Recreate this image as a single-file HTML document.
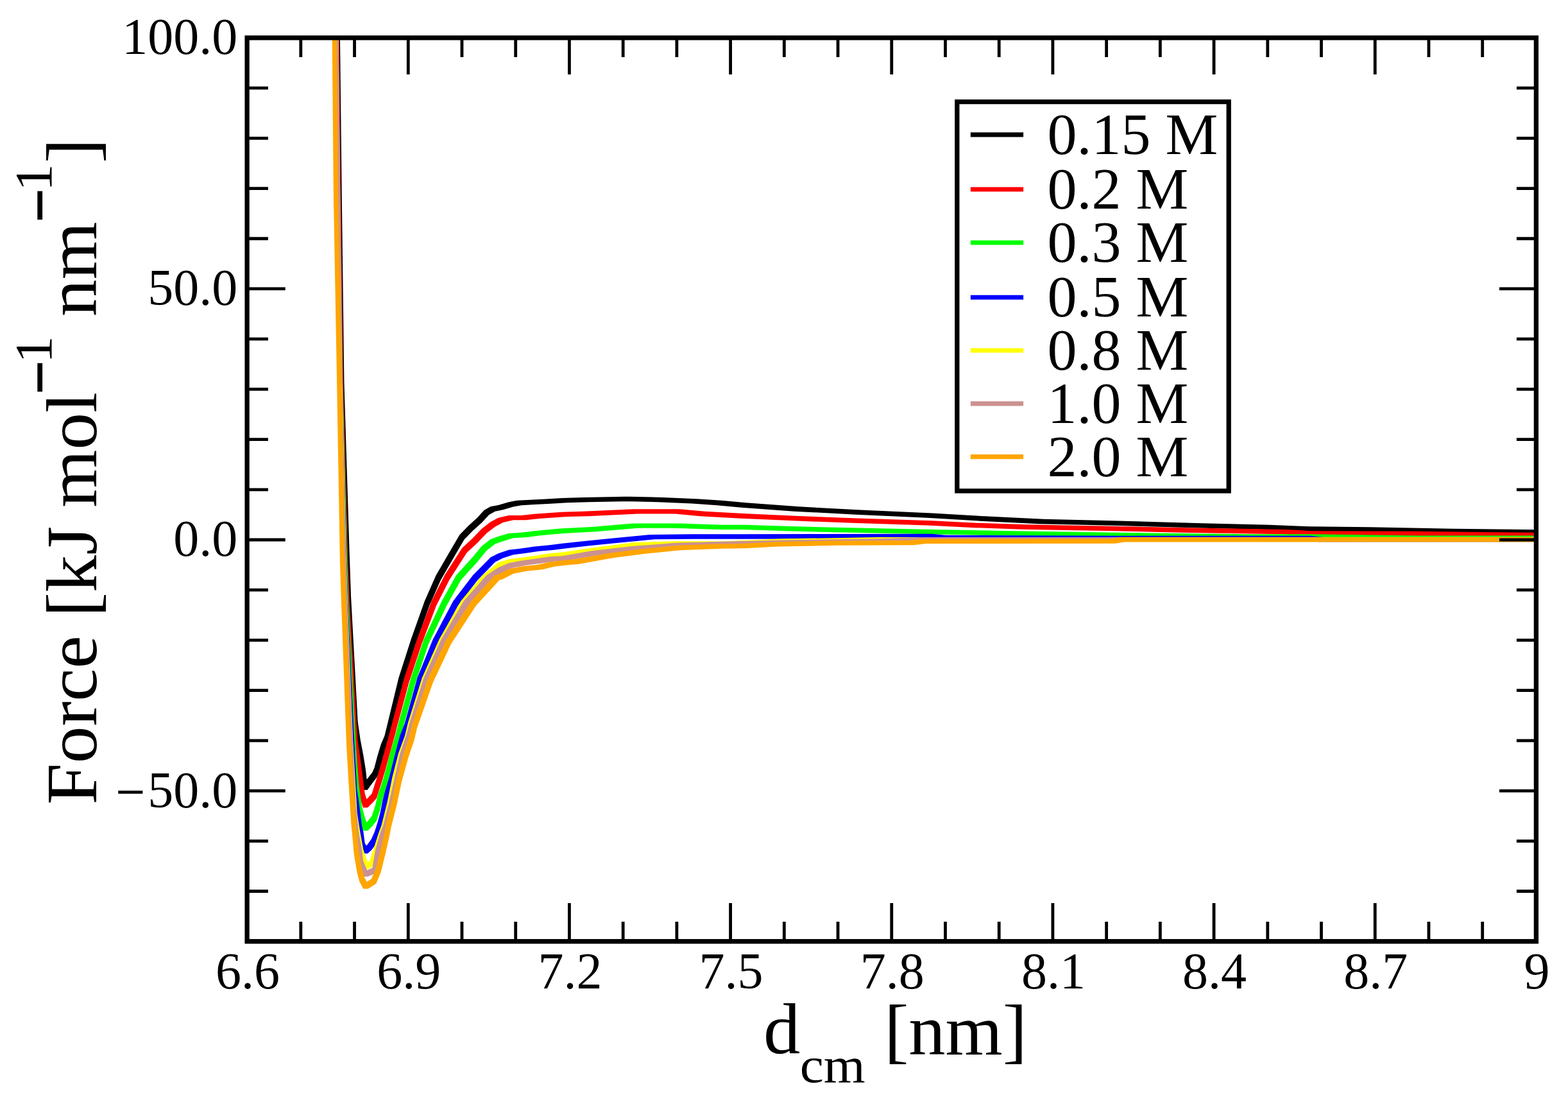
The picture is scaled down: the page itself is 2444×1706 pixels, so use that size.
<!DOCTYPE html>
<html><head><meta charset="utf-8"><title>Force vs distance</title>
<style>html,body{margin:0;padding:0;background:#fff;}svg{display:block;}</style></head>
<body><svg width="2444" height="1706" viewBox="0 0 2444 1706" font-family="'Liberation Serif', 'Times New Roman', serif">
<rect width="2444" height="1706" fill="#fff"/>
<defs><clipPath id="c"><rect x="385.1" y="58.9" width="2009.3" height="1407.8"/></clipPath></defs>
<g clip-path="url(#c)">
<path fill="#000000" d="M521.95 26.35 529.25 26.35 529.95 58.35 529.95 65.65 522.65 65.65 521.95 33.65ZM522.65 58.35 529.95 58.35 532.65 296.35 532.65 303.65 525.35 303.65 522.65 65.65ZM525.35 296.35 532.65 296.35 536.45 596.35 536.45 603.65 529.15 603.65 525.35 303.65ZM529.15 596.35 536.45 596.35 544.85 866.35 544.85 873.65 537.55 873.65 529.15 603.65ZM537.55 866.35 544.85 866.35 547.15 931.35 547.15 938.65 539.85 938.65 537.55 873.65ZM539.85 931.35 547.15 931.35 556.15 1096.35 556.15 1103.65 548.85 1103.65 539.85 938.65ZM548.85 1096.35 556.15 1096.35 557.65 1124.35 557.65 1131.65 550.35 1131.65 548.85 1103.65ZM550.35 1124.35 557.65 1124.35 561.65 1152.35 561.65 1159.65 554.35 1159.65 550.35 1131.65ZM554.35 1152.35 561.65 1152.35 566.25 1176.35 566.25 1183.65 558.95 1183.65 554.35 1159.65ZM558.95 1176.35 566.25 1176.35 569.95 1198.85 569.95 1206.15 562.65 1206.15 558.95 1183.65ZM562.65 1198.85 569.95 1198.85 572.65 1223.35 572.65 1230.65 565.35 1230.65 562.65 1206.15ZM565.35 1223.35 573.35 1212.35 580.65 1212.35 580.65 1219.65 572.65 1230.65 565.35 1230.65ZM573.35 1212.35 580.35 1203.35 587.65 1203.35 587.65 1210.65 580.65 1219.65 573.35 1219.65ZM580.35 1203.35 583.45 1196.25 590.75 1196.25 590.75 1203.55 587.65 1210.65 580.35 1210.65ZM583.45 1196.25 588.15 1178.35 595.45 1178.35 595.45 1185.65 590.75 1203.55 583.45 1203.55ZM588.15 1178.35 593.75 1159.75 601.05 1159.75 601.05 1167.05 595.45 1185.65 588.15 1185.65ZM593.75 1159.75 599.45 1146.35 606.75 1146.35 606.75 1153.65 601.05 1167.05 593.75 1167.05ZM599.45 1146.35 604.3 1126.55 611.6 1126.55 611.6 1133.85 606.75 1153.65 599.45 1153.65ZM604.3 1126.55 621.35 1056.25 628.65 1056.25 628.65 1063.55 611.6 1133.85 604.3 1133.85ZM621.35 1056.25 640.6 996.25 647.9 996.25 647.9 1003.55 628.65 1063.55 621.35 1063.55ZM640.6 996.25 661.95 936.35 669.25 936.35 669.25 943.65 647.9 1003.55 640.6 1003.55ZM661.95 936.35 679.65 896.35 686.95 896.35 686.95 903.65 669.25 943.65 661.95 943.65ZM679.65 896.35 704.35 853.75 711.65 853.75 711.65 861.05 686.95 903.65 679.65 903.65ZM704.35 853.75 716.35 833.25 723.65 833.25 723.65 840.55 711.65 861.05 704.35 861.05ZM716.35 833.25 730.05 819.15 737.35 819.15 737.35 826.45 723.65 840.55 716.35 840.55ZM730.05 819.15 743.75 806.85 751.05 806.85 751.05 814.15 737.35 826.45 730.05 826.45ZM743.75 806.85 754.75 794.85 762.05 794.85 762.05 802.15 751.05 814.15 743.75 814.15ZM754.75 794.85 764.35 789.35 771.65 789.35 771.65 796.65 762.05 802.15 754.75 802.15ZM764.35 789.35 776.65 787.05 783.95 787.05 783.95 794.35 771.65 796.65 764.35 796.65ZM776.65 787.05 792.85 782.15 800.15 782.15 800.15 789.45 783.95 794.35 776.65 794.35ZM792.85 782.15 805.55 779.85 812.85 779.85 812.85 787.15 800.15 789.45 792.85 789.45ZM805.55 779.85 826.15 778.65 833.45 778.65 833.45 785.95 812.85 787.15 805.55 787.15ZM826.15 778.65 851.05 777.55 858.35 777.55 858.35 784.85 833.45 785.95 826.15 785.95ZM851.05 777.55 875.95 775.95 883.25 775.95 883.25 783.25 858.35 784.85 851.05 784.85ZM875.95 775.95 908.65 774.95 915.95 774.95 915.95 782.25 883.25 783.25 875.95 783.25ZM908.65 774.95 973.95 773.65 981.25 773.65 981.25 780.95 915.95 782.25 908.65 782.25ZM973.95 773.65 981.25 773.65 1033.55 774.95 1033.55 782.25 1026.25 782.25 973.95 780.95ZM1026.25 774.95 1033.55 774.95 1085.75 777.25 1085.75 784.55 1078.45 784.55 1026.25 782.25ZM1078.45 777.25 1085.75 777.25 1124.95 779.85 1124.95 787.15 1117.65 787.15 1078.45 784.55ZM1117.65 779.85 1124.95 779.85 1162.85 783.35 1162.85 790.65 1155.55 790.65 1117.65 787.15ZM1155.55 783.35 1162.85 783.35 1245.15 789.35 1245.15 796.65 1237.85 796.65 1155.55 790.65ZM1237.85 789.35 1245.15 789.35 1336.55 794.25 1336.55 801.55 1329.25 801.55 1237.85 796.65ZM1329.25 794.25 1336.55 794.25 1452.85 799.45 1452.85 806.75 1445.55 806.75 1329.25 801.55ZM1445.55 799.45 1452.85 799.45 1535.15 804.35 1535.15 811.65 1527.85 811.65 1445.55 806.75ZM1527.85 804.35 1535.15 804.35 1626.55 808.85 1626.55 816.15 1619.25 816.15 1527.85 811.65ZM1619.25 808.85 1626.55 808.85 1742.85 811.45 1742.85 818.75 1735.55 818.75 1619.25 816.15ZM1735.55 811.45 1742.85 811.45 1874.35 815.15 1874.35 822.45 1867.05 822.45 1735.55 818.75ZM1867.05 815.15 1874.35 815.15 1978.85 817.75 1978.85 825.05 1971.55 825.05 1867.05 822.45ZM1971.55 817.75 1978.85 817.75 2042.85 820.35 2042.85 827.65 2035.55 827.65 1971.55 825.05ZM2035.55 820.35 2042.85 820.35 2135.65 821.15 2135.65 828.45 2128.35 828.45 2035.55 827.65ZM2128.35 821.15 2135.65 821.15 2263.65 823.85 2263.65 831.15 2256.35 831.15 2128.35 828.45ZM2256.35 823.85 2263.65 823.85 2403.65 825.35 2403.65 832.65 2396.35 832.65 2256.35 831.15Z"/>
<path fill="#ff0000" d="M520.65 26.35 527.95 26.35 528.65 58.35 528.65 65.65 521.35 65.65 520.65 33.65ZM521.35 58.35 528.65 58.35 531.15 296.35 531.15 303.65 523.85 303.65 521.35 65.65ZM523.85 296.35 531.15 296.35 535.15 596.35 535.15 603.65 527.85 603.65 523.85 303.65ZM527.85 596.35 535.15 596.35 542.15 866.35 542.15 873.65 534.85 873.65 527.85 603.65ZM534.85 866.35 542.15 866.35 544.65 931.35 544.65 938.65 537.35 938.65 534.85 873.65ZM537.35 931.35 544.65 931.35 557.25 1152.35 557.25 1159.65 549.95 1159.65 537.35 938.65ZM549.95 1152.35 557.25 1152.35 562.25 1186.35 562.25 1193.65 554.95 1193.65 549.95 1159.65ZM554.95 1186.35 562.25 1186.35 566.65 1221.35 566.65 1228.65 559.35 1228.65 554.95 1193.65ZM559.35 1221.35 566.65 1221.35 568.65 1236.35 568.65 1243.65 561.35 1243.65 559.35 1228.65ZM561.35 1236.35 568.65 1236.35 573.15 1250.85 573.15 1258.15 565.85 1258.15 561.35 1243.65ZM565.85 1250.85 573.35 1243.35 580.65 1243.35 580.65 1250.65 573.15 1258.15 565.85 1258.15ZM573.35 1243.35 579.65 1236.35 586.95 1236.35 586.95 1243.65 580.65 1250.65 573.35 1250.65ZM579.65 1236.35 584.35 1221.35 591.65 1221.35 591.65 1228.65 586.95 1243.65 579.65 1243.65ZM584.35 1221.35 587.65 1211.15 594.95 1211.15 594.95 1218.45 591.65 1228.65 584.35 1228.65ZM587.65 1211.15 593.35 1192.35 600.65 1192.35 600.65 1199.65 594.95 1218.45 587.65 1218.45ZM593.35 1192.35 598.45 1173.75 605.75 1173.75 605.75 1181.05 600.65 1199.65 593.35 1199.65ZM598.45 1173.75 603.55 1155.05 610.85 1155.05 610.85 1162.35 605.75 1181.05 598.45 1181.05ZM603.55 1155.05 608.75 1136.35 616.05 1136.35 616.05 1143.65 610.85 1162.35 603.55 1162.35ZM608.75 1136.35 611.15 1126.55 618.45 1126.55 618.45 1133.85 616.05 1143.65 608.75 1143.65ZM611.15 1126.55 630.05 1056.25 637.35 1056.25 637.35 1063.55 618.45 1133.85 611.15 1133.85ZM630.05 1056.25 649.95 996.25 657.25 996.25 657.25 1003.55 637.35 1063.55 630.05 1063.55ZM649.95 996.25 672.7 936.35 680 936.35 680 943.65 657.25 1003.55 649.95 1003.55ZM672.7 936.35 692.95 896.35 700.25 896.35 700.25 903.65 680 943.65 672.7 943.65ZM692.95 896.35 720.35 853.75 727.65 853.75 727.65 861.05 700.25 903.65 692.95 903.65ZM720.35 853.75 736.95 838.35 744.25 838.35 744.25 845.65 727.65 861.05 720.35 861.05ZM736.95 838.35 750.65 823.95 757.95 823.95 757.95 831.25 744.25 845.65 736.95 845.65ZM750.65 823.95 764.35 813.35 771.65 813.35 771.65 820.65 757.95 831.25 750.65 831.25ZM764.35 813.35 776.65 806.65 783.95 806.65 783.95 813.95 771.65 820.65 764.35 820.65ZM776.65 806.65 792.85 802.95 800.15 802.95 800.15 810.25 783.95 813.95 776.65 813.95ZM792.85 802.95 800.15 802.95 819.75 803.05 819.75 810.35 812.45 810.35 792.85 810.25ZM812.45 803.05 832.95 800.65 840.25 800.65 840.25 807.95 819.75 810.35 812.45 810.35ZM832.95 800.65 875.95 797.75 883.25 797.75 883.25 805.05 840.25 807.95 832.95 807.95ZM875.95 797.75 908.65 796.85 915.95 796.85 915.95 804.15 883.25 805.05 875.95 805.05ZM908.65 796.85 987.05 793.15 994.35 793.15 994.35 800.45 915.95 804.15 908.65 804.15ZM987.05 793.15 1059.65 793.15 1059.65 800.45 987.05 800.45ZM1052.35 793.15 1059.65 793.15 1098.85 796.85 1098.85 804.15 1091.55 804.15 1052.35 800.45ZM1091.55 796.85 1098.85 796.85 1162.85 800.35 1162.85 807.65 1155.55 807.65 1091.55 804.15ZM1155.55 800.35 1162.85 800.35 1245.15 804.05 1245.15 811.35 1237.85 811.35 1155.55 807.65ZM1237.85 804.05 1245.15 804.05 1336.55 807.55 1336.55 814.85 1329.25 814.85 1237.85 811.35ZM1329.25 807.55 1336.55 807.55 1452.85 811.25 1452.85 818.55 1445.55 818.55 1329.25 814.85ZM1445.55 811.25 1452.85 811.25 1522.05 814.75 1522.05 822.05 1514.75 822.05 1445.55 818.55ZM1514.75 814.75 1522.05 814.75 1600.45 817.35 1600.45 824.65 1593.15 824.65 1514.75 822.05ZM1593.15 817.35 1600.45 817.35 1742.85 819.95 1742.85 827.25 1735.55 827.25 1593.15 824.65ZM1735.55 819.95 1742.85 819.95 1848.15 822.35 1848.15 829.65 1840.85 829.65 1735.55 827.25ZM1840.85 822.35 1848.15 822.35 2004.95 824.95 2004.95 832.25 1997.65 832.25 1840.85 829.65ZM1997.65 824.95 2004.95 824.95 2043.65 827.15 2043.65 834.45 2036.35 834.45 1997.65 832.25ZM2036.35 827.15 2043.65 827.15 2201.65 827.85 2201.65 835.15 2194.35 835.15 2036.35 834.45ZM2194.35 827.85 2201.65 827.85 2403.65 829.85 2403.65 837.15 2396.35 837.15 2194.35 835.15Z"/>
<path fill="#00ff00" d="M519.65 26.35 526.95 26.35 527.65 58.35 527.65 65.65 520.35 65.65 519.65 33.65ZM520.35 58.35 527.65 58.35 530.15 296.35 530.15 303.65 522.85 303.65 520.35 65.65ZM522.85 296.35 530.15 296.35 534.15 596.35 534.15 603.65 526.85 603.65 522.85 303.65ZM526.85 596.35 534.15 596.35 541.15 866.35 541.15 873.65 533.85 873.65 526.85 603.65ZM533.85 866.35 541.15 866.35 543.15 931.35 543.15 938.65 535.85 938.65 533.85 873.65ZM535.85 931.35 543.15 931.35 554.45 1152.35 554.45 1159.65 547.15 1159.65 535.85 938.65ZM547.15 1152.35 554.45 1152.35 556.55 1186.35 556.55 1193.65 549.25 1193.65 547.15 1159.65ZM549.25 1186.35 556.55 1186.35 559.35 1221.35 559.35 1228.65 552.05 1228.65 549.25 1193.65ZM552.05 1221.35 559.35 1221.35 564.05 1256.35 564.05 1263.65 556.75 1263.65 552.05 1228.65ZM556.75 1256.35 564.05 1256.35 568.05 1271.35 568.05 1278.65 560.75 1278.65 556.75 1263.65ZM560.75 1271.35 568.05 1271.35 573.15 1286.85 573.15 1294.15 565.85 1294.15 560.75 1278.65ZM565.85 1286.85 573.35 1279.35 580.65 1279.35 580.65 1286.65 573.15 1294.15 565.85 1294.15ZM573.35 1279.35 579.65 1271.35 586.95 1271.35 586.95 1278.65 580.65 1286.65 573.35 1286.65ZM579.65 1271.35 584.55 1256.35 591.85 1256.35 591.85 1263.65 586.95 1278.65 579.65 1278.65ZM584.55 1256.35 589.55 1236.35 596.85 1236.35 596.85 1243.65 591.85 1263.65 584.55 1263.65ZM589.55 1236.35 593.85 1224.35 601.15 1224.35 601.15 1231.65 596.85 1243.65 589.55 1243.65ZM593.85 1224.35 597.95 1211.15 605.25 1211.15 605.25 1218.45 601.15 1231.65 593.85 1231.65ZM597.95 1211.15 603.15 1192.45 610.45 1192.45 610.45 1199.75 605.25 1218.45 597.95 1218.45ZM603.15 1192.45 607.75 1173.75 615.05 1173.75 615.05 1181.05 610.45 1199.75 603.15 1199.75ZM607.75 1173.75 616.05 1146.35 623.35 1146.35 623.35 1153.65 615.05 1181.05 607.75 1181.05ZM616.05 1146.35 621.1 1126.55 628.4 1126.55 628.4 1133.85 623.35 1153.65 616.05 1153.65ZM621.1 1126.55 640.45 1056.25 647.75 1056.25 647.75 1063.55 628.4 1133.85 621.1 1133.85ZM640.45 1056.25 660.55 996.25 667.85 996.25 667.85 1003.55 647.75 1063.55 640.45 1063.55ZM660.55 996.25 688.75 936.35 696.05 936.35 696.05 943.65 667.85 1003.55 660.55 1003.55ZM688.75 936.35 711.1 896.35 718.4 896.35 718.4 903.65 696.05 943.65 688.75 943.65ZM711.1 896.35 736.95 867.85 744.25 867.85 744.25 875.15 718.4 903.65 711.1 903.65ZM736.95 867.85 750.65 851.05 757.95 851.05 757.95 858.35 744.25 875.15 736.95 875.15ZM750.65 851.05 764.35 840.15 771.65 840.15 771.65 847.45 757.95 858.35 750.65 858.35ZM764.35 840.15 776.65 835.85 783.95 835.85 783.95 843.15 771.65 847.45 764.35 847.45ZM776.65 835.85 792.85 830.95 800.15 830.95 800.15 838.25 783.95 843.15 776.65 843.15ZM792.85 830.95 812.45 829.85 819.75 829.85 819.75 837.15 800.15 838.25 792.85 838.25ZM812.45 829.85 832.95 827.25 840.25 827.25 840.25 834.55 819.75 837.15 812.45 837.15ZM832.95 827.25 856.35 824.95 863.65 824.95 863.65 832.25 840.25 834.55 832.95 834.55ZM856.35 824.95 875.95 823.35 883.25 823.35 883.25 830.65 863.65 832.25 856.35 832.25ZM875.95 823.35 921.65 821.05 928.95 821.05 928.95 828.35 883.25 830.65 875.95 830.65ZM921.65 821.05 987.05 815.45 994.35 815.45 994.35 822.75 928.95 828.35 921.65 828.35ZM987.05 815.45 1059.65 815.45 1059.65 822.75 987.05 822.75ZM1052.35 815.45 1059.65 815.45 1124.95 817.75 1124.95 825.05 1117.65 825.05 1052.35 822.75ZM1117.65 817.75 1162.85 817.75 1162.85 825.05 1117.65 825.05ZM1155.55 817.75 1162.85 817.75 1232.05 819.95 1232.05 827.25 1224.75 827.25 1155.55 825.05ZM1224.75 819.95 1232.05 819.95 1336.55 822.55 1336.55 829.85 1329.25 829.85 1224.75 827.25ZM1329.25 822.55 1336.55 822.55 1452.85 824.95 1452.85 832.25 1445.55 832.25 1329.25 829.85ZM1445.55 824.95 1452.85 824.95 1574.35 827.15 1574.35 834.45 1567.05 834.45 1445.55 832.25ZM1567.05 827.15 1574.35 827.15 1742.85 829.75 1742.85 837.05 1735.55 837.05 1567.05 834.45ZM1735.55 829.75 1742.85 829.75 1939.65 832.15 1939.65 839.45 1932.35 839.45 1735.55 837.05ZM1932.35 832.15 1939.65 832.15 2043.65 832.35 2043.65 839.65 2036.35 839.65 1932.35 839.45ZM2036.35 832.35 2043.65 832.35 2211.65 834.55 2211.65 841.85 2204.35 841.85 2036.35 839.65ZM2204.35 834.55 2403.65 834.55 2403.65 841.85 2204.35 841.85Z"/>
<path fill="#0000ff" d="M519.65 26.35 526.95 26.35 527.65 58.35 527.65 65.65 520.35 65.65 519.65 33.65ZM520.35 58.35 527.65 58.35 530.15 296.35 530.15 303.65 522.85 303.65 520.35 65.65ZM522.85 296.35 530.15 296.35 533.65 596.35 533.65 603.65 526.35 603.65 522.85 303.65ZM526.35 596.35 533.65 596.35 540.15 866.35 540.15 873.65 532.85 873.65 526.35 603.65ZM532.85 866.35 540.15 866.35 542.15 931.35 542.15 938.65 534.85 938.65 532.85 873.65ZM534.85 931.35 542.15 931.35 552.15 1152.35 552.15 1159.65 544.85 1159.65 534.85 938.65ZM544.85 1152.35 552.15 1152.35 556.55 1231.35 556.55 1238.65 549.25 1238.65 544.85 1159.65ZM549.25 1231.35 556.55 1231.35 559.05 1246.35 559.05 1253.65 551.75 1253.65 549.25 1238.65ZM551.75 1246.35 559.05 1246.35 561.55 1266.35 561.55 1273.65 554.25 1273.65 551.75 1253.65ZM554.25 1266.35 561.55 1266.35 564.05 1286.35 564.05 1293.65 556.75 1293.65 554.25 1273.65ZM556.75 1286.35 564.05 1286.35 566.45 1296.35 566.45 1303.65 559.15 1303.65 556.75 1293.65ZM559.15 1296.35 566.45 1296.35 568.65 1313.15 568.65 1320.45 561.35 1320.45 559.15 1303.65ZM561.35 1313.15 568.65 1313.15 573.15 1322.35 573.15 1329.65 565.85 1329.65 561.35 1320.45ZM565.85 1322.35 572.35 1316.35 579.65 1316.35 579.65 1323.65 573.15 1329.65 565.85 1329.65ZM572.35 1316.35 578.85 1307.35 586.15 1307.35 586.15 1314.65 579.65 1323.65 572.35 1323.65ZM578.85 1307.35 583.75 1296.35 591.05 1296.35 591.05 1303.65 586.15 1314.65 578.85 1314.65ZM583.75 1296.35 588.55 1281.35 595.85 1281.35 595.85 1288.65 591.05 1303.65 583.75 1303.65ZM588.55 1281.35 592.55 1266.35 599.85 1266.35 599.85 1273.65 595.85 1288.65 588.55 1288.65ZM592.55 1266.35 596.55 1246.35 603.85 1246.35 603.85 1253.65 599.85 1273.65 592.55 1273.65ZM596.55 1246.35 600.55 1231.35 607.85 1231.35 607.85 1238.65 603.85 1253.65 596.55 1253.65ZM600.55 1231.35 606.65 1211.15 613.95 1211.15 613.95 1218.45 607.85 1238.65 600.55 1238.65ZM606.65 1211.15 616.05 1173.75 623.35 1173.75 623.35 1181.05 613.95 1218.45 606.65 1218.45ZM616.05 1173.75 623.35 1146.35 630.65 1146.35 630.65 1153.65 623.35 1181.05 616.05 1181.05ZM623.35 1146.35 631 1126.55 638.3 1126.55 638.3 1133.85 630.65 1153.65 623.35 1153.65ZM631 1126.55 650.35 1056.25 657.65 1056.25 657.65 1063.55 638.3 1133.85 631 1133.85ZM650.35 1056.25 674.7 996.25 682 996.25 682 1003.55 657.65 1063.55 650.35 1063.55ZM674.7 996.25 706.45 936.35 713.75 936.35 713.75 943.65 682 1003.55 674.7 1003.55ZM706.45 936.35 737.1 896.35 744.4 896.35 744.4 903.65 713.75 943.65 706.45 943.65ZM737.1 896.35 764.35 868.55 771.65 868.55 771.65 875.85 744.4 903.65 737.1 903.65ZM764.35 868.55 776.65 862.15 783.95 862.15 783.95 869.45 771.65 875.85 764.35 875.85ZM776.65 862.15 792.85 856.85 800.15 856.85 800.15 864.15 783.95 869.45 776.65 869.45ZM792.85 856.85 812.45 854.55 819.75 854.55 819.75 861.85 800.15 864.15 792.85 864.15ZM812.45 854.55 832.95 851.55 840.25 851.55 840.25 858.85 819.75 861.85 812.45 861.85ZM832.95 851.55 856.35 849.35 863.65 849.35 863.65 856.65 840.25 858.85 832.95 858.85ZM856.35 849.35 875.95 846.85 883.25 846.85 883.25 854.15 863.65 856.65 856.35 856.65ZM875.95 846.85 908.65 843.25 915.95 843.25 915.95 850.55 883.25 854.15 875.95 854.15ZM908.65 843.25 960.85 838.05 968.15 838.05 968.15 845.35 915.95 850.55 908.65 850.55ZM960.85 838.05 1013.15 833.05 1020.45 833.05 1020.45 840.35 968.15 845.35 960.85 845.35ZM1013.15 833.05 1078.45 832.35 1085.75 832.35 1085.75 839.65 1020.45 840.35 1013.15 840.35ZM1078.45 832.35 1162.85 832.35 1162.85 839.65 1078.45 839.65ZM1155.55 832.35 1445.55 831.75 1452.85 831.75 1452.85 839.05 1162.85 839.65 1155.55 839.65ZM1445.55 831.75 1452.85 831.75 1473.65 833.85 1473.65 841.15 1466.35 841.15 1445.55 839.05ZM1466.35 833.85 1473.65 833.85 1743.65 834.65 1743.65 841.95 1736.35 841.95 1466.35 841.15ZM1736.35 834.65 1743.65 834.65 2043.65 834.85 2043.65 842.15 2036.35 842.15 1736.35 841.95ZM2036.35 834.85 2043.65 834.85 2063.65 836.95 2063.65 844.25 2056.35 844.25 2036.35 842.15ZM2056.35 836.95 2403.65 836.95 2403.65 844.25 2056.35 844.25Z"/>
<path fill="#ffff00" d="M519.65 26.35 526.95 26.35 527.65 58.35 527.65 65.65 520.35 65.65 519.65 33.65ZM520.35 58.35 527.65 58.35 530.15 296.35 530.15 303.65 522.85 303.65 520.35 65.65ZM522.85 296.35 530.15 296.35 533.65 596.35 533.65 603.65 526.35 603.65 522.85 303.65ZM526.35 596.35 533.65 596.35 539.65 866.35 539.65 873.65 532.35 873.65 526.35 603.65ZM532.35 866.35 539.65 866.35 541.65 931.35 541.65 938.65 534.35 938.65 532.35 873.65ZM534.35 931.35 541.65 931.35 550.15 1152.35 550.15 1159.65 542.85 1159.65 534.35 938.65ZM542.85 1152.35 550.15 1152.35 556.65 1266.35 556.65 1273.65 549.35 1273.65 542.85 1159.65ZM549.35 1266.35 556.65 1266.35 561.35 1296.35 561.35 1303.65 554.05 1303.65 549.35 1273.65ZM554.05 1296.35 561.35 1296.35 566.45 1324.35 566.45 1331.65 559.15 1331.65 554.05 1303.65ZM559.15 1324.35 566.45 1324.35 574.15 1346.35 574.15 1353.65 566.85 1353.65 559.15 1331.65ZM566.85 1346.35 576.15 1341.35 583.45 1341.35 583.45 1348.65 574.15 1353.65 566.85 1353.65ZM576.15 1341.35 581.65 1324.35 588.95 1324.35 588.95 1331.65 583.45 1348.65 576.15 1348.65ZM581.65 1324.35 590.65 1296.35 597.95 1296.35 597.95 1303.65 588.95 1331.65 581.65 1331.65ZM590.65 1296.35 594.55 1286.05 601.85 1286.05 601.85 1293.35 597.95 1303.65 590.65 1303.65ZM594.55 1286.05 603.85 1248.65 611.15 1248.65 611.15 1255.95 601.85 1293.35 594.55 1293.35ZM603.85 1248.65 611.35 1211.15 618.65 1211.15 618.65 1218.45 611.15 1255.95 603.85 1255.95ZM611.35 1211.15 620.95 1173.75 628.25 1173.75 628.25 1181.05 618.65 1218.45 611.35 1218.45ZM620.95 1173.75 631.05 1146.35 638.35 1146.35 638.35 1153.65 628.25 1181.05 620.95 1181.05ZM631.05 1146.35 635.8 1126.55 643.1 1126.55 643.1 1133.85 638.35 1153.65 631.05 1153.65ZM635.8 1126.55 657.75 1056.25 665.05 1056.25 665.05 1063.55 643.1 1133.85 635.8 1133.85ZM657.75 1056.25 684.5 996.25 691.8 996.25 691.8 1003.55 665.05 1063.55 657.75 1063.55ZM684.5 996.25 718.45 936.35 725.75 936.35 725.75 943.65 691.8 1003.55 684.5 1003.55ZM718.45 936.35 751.95 896.35 759.25 896.35 759.25 903.65 725.75 943.65 718.45 943.65ZM751.95 896.35 776.65 876.25 783.95 876.25 783.95 883.55 759.25 903.65 751.95 903.65ZM776.65 876.25 792.85 871.35 800.15 871.35 800.15 878.65 783.95 883.55 776.65 883.55ZM792.85 871.35 812.45 868.75 819.75 868.75 819.75 876.05 800.15 878.65 792.85 878.65ZM812.45 868.75 832.95 865.95 840.25 865.95 840.25 873.25 819.75 876.05 812.45 876.05ZM832.95 865.95 856.35 862.15 863.65 862.15 863.65 869.45 840.25 873.25 832.95 873.25ZM856.35 862.15 875.95 860.55 883.25 860.55 883.25 867.85 863.65 869.45 856.35 869.45ZM875.95 860.55 921.65 853.65 928.95 853.65 928.95 860.95 883.25 867.85 875.95 867.85ZM921.65 853.65 987.05 845.25 994.35 845.25 994.35 852.55 928.95 860.95 921.65 860.95ZM987.05 845.25 1052.35 843.25 1059.65 843.25 1059.65 850.55 994.35 852.55 987.05 852.55ZM1052.35 843.25 1138.05 843.25 1138.05 850.55 1052.35 850.55ZM1130.75 843.25 1216.35 839.55 1223.65 839.55 1223.65 846.85 1138.05 850.55 1130.75 850.55ZM1216.35 839.55 1369.35 836.95 1376.65 836.95 1376.65 844.25 1223.65 846.85 1216.35 846.85ZM1369.35 836.95 2396.35 836.85 2403.65 836.85 2403.65 844.15 1376.65 844.25 1369.35 844.25Z"/>
<path fill="#cb9191" d="M519.65 26.35 526.95 26.35 527.65 58.35 527.65 65.65 520.35 65.65 519.65 33.65ZM520.35 58.35 527.65 58.35 530.15 296.35 530.15 303.65 522.85 303.65 520.35 65.65ZM522.85 296.35 530.15 296.35 533.15 596.35 533.15 603.65 525.85 603.65 522.85 303.65ZM525.85 596.35 533.15 596.35 539.15 866.35 539.15 873.65 531.85 873.65 525.85 603.65ZM531.85 866.35 539.15 866.35 541.15 931.35 541.15 938.65 533.85 938.65 531.85 873.65ZM533.85 931.35 541.15 931.35 549.65 1152.35 549.65 1159.65 542.35 1159.65 533.85 938.65ZM542.35 1152.35 549.65 1152.35 554.65 1256.35 554.65 1263.65 547.35 1263.65 542.35 1159.65ZM547.35 1256.35 554.65 1256.35 559.15 1296.35 559.15 1303.65 551.85 1303.65 547.35 1263.65ZM551.85 1296.35 559.15 1296.35 564.15 1324.35 564.15 1331.65 556.85 1331.65 551.85 1303.65ZM556.85 1324.35 564.15 1324.35 566.15 1341.35 566.15 1348.65 558.85 1348.65 556.85 1331.65ZM558.85 1341.35 566.15 1341.35 573.15 1358.35 573.15 1365.65 565.85 1365.65 558.85 1348.65ZM565.85 1358.35 580.35 1352.35 587.65 1352.35 587.65 1359.65 573.15 1365.65 565.85 1365.65ZM580.35 1352.35 585.05 1324.35 592.35 1324.35 592.35 1331.65 587.65 1359.65 580.35 1359.65ZM585.05 1324.35 592.95 1296.35 600.25 1296.35 600.25 1303.65 592.35 1331.65 585.05 1331.65ZM592.95 1296.35 597.35 1286.05 604.65 1286.05 604.65 1293.35 600.25 1303.65 592.95 1303.65ZM597.35 1286.05 606.65 1248.65 613.95 1248.65 613.95 1255.95 604.65 1293.35 597.35 1293.35ZM606.65 1248.65 615.15 1211.15 622.45 1211.15 622.45 1218.45 613.95 1255.95 606.65 1255.95ZM615.15 1211.15 623.55 1173.75 630.85 1173.75 630.85 1181.05 622.45 1218.45 615.15 1218.45ZM623.55 1173.75 633.15 1146.35 640.45 1146.35 640.45 1153.65 630.85 1181.05 623.55 1181.05ZM633.15 1146.35 638.3 1126.55 645.6 1126.55 645.6 1133.85 640.45 1153.65 633.15 1153.65ZM638.3 1126.55 660.55 1056.25 667.85 1056.25 667.85 1063.55 645.6 1133.85 638.3 1133.85ZM660.55 1056.25 687.7 996.25 695 996.25 695 1003.55 667.85 1063.55 660.55 1063.55ZM687.7 996.25 722.85 936.35 730.15 936.35 730.15 943.65 695 1003.55 687.7 1003.55ZM722.85 936.35 758.15 896.35 765.45 896.35 765.45 903.65 730.15 943.65 722.85 943.65ZM758.15 896.35 776.65 884.35 783.95 884.35 783.95 891.65 765.45 903.65 758.15 903.65ZM776.65 884.35 792.85 877.15 800.15 877.15 800.15 884.45 783.95 891.65 776.65 891.65ZM792.85 877.15 812.45 873.55 819.75 873.55 819.75 880.85 800.15 884.45 792.85 884.45ZM812.45 873.55 832.95 870.75 840.25 870.75 840.25 878.05 819.75 880.85 812.45 880.85ZM832.95 870.75 856.35 867.35 863.65 867.35 863.65 874.65 840.25 878.05 832.95 878.05ZM856.35 867.35 875.95 866.15 883.25 866.15 883.25 873.45 863.65 874.65 856.35 874.65ZM875.95 866.15 921.65 858.25 928.95 858.25 928.95 865.55 883.25 873.45 875.95 873.45ZM921.65 858.25 987.05 850.85 994.35 850.85 994.35 858.15 928.95 865.55 921.65 865.55ZM987.05 850.85 1052.35 845.85 1059.65 845.85 1059.65 853.15 994.35 858.15 987.05 858.15ZM1052.35 845.85 1143.85 843.25 1151.15 843.25 1151.15 850.55 1059.65 853.15 1052.35 853.15ZM1143.85 843.25 1221.35 841.55 1228.65 841.55 1228.65 848.85 1151.15 850.55 1143.85 850.55ZM1221.35 841.55 1356.35 839.55 1363.65 839.55 1363.65 846.85 1228.65 848.85 1221.35 848.85ZM1356.35 839.55 1436.35 836.95 1443.65 836.95 1443.65 844.25 1363.65 846.85 1356.35 846.85ZM1436.35 836.95 2396.35 836.85 2403.65 836.85 2403.65 844.15 1443.65 844.25 1436.35 844.25Z"/>
<path fill="#ffa500" d="M517.15 26.35 524.45 26.35 525.05 58.35 525.05 65.65 517.75 65.65 517.15 33.65ZM517.75 58.35 525.05 58.35 527.15 296.35 527.15 303.65 519.85 303.65 517.75 65.65ZM519.85 296.35 527.15 296.35 532.55 596.35 532.55 603.65 525.25 603.65 519.85 303.65ZM525.25 596.35 532.55 596.35 537.15 866.35 537.15 873.65 529.85 873.65 525.25 603.65ZM529.85 866.35 537.15 866.35 539.25 931.35 539.25 938.65 531.95 938.65 529.85 873.65ZM531.95 931.35 539.25 931.35 547.25 1152.35 547.25 1159.65 539.95 1159.65 531.95 938.65ZM539.95 1152.35 547.25 1152.35 550.95 1216.35 550.95 1223.65 543.65 1223.65 539.95 1159.65ZM543.65 1216.35 550.95 1216.35 554.65 1276.35 554.65 1283.65 547.35 1283.65 543.65 1223.65ZM547.35 1276.35 554.65 1276.35 556.65 1296.35 556.65 1303.65 549.35 1303.65 547.35 1283.65ZM549.35 1296.35 556.65 1296.35 559.15 1324.35 559.15 1331.65 551.85 1331.65 549.35 1303.65ZM551.85 1324.35 559.15 1324.35 563.95 1352.35 563.95 1359.65 556.65 1359.65 551.85 1331.65ZM556.65 1352.35 563.95 1352.35 567.65 1366.35 567.65 1373.65 560.35 1373.65 556.65 1359.65ZM560.35 1366.35 567.65 1366.35 573.65 1377.35 573.65 1384.65 566.35 1384.65 560.35 1373.65ZM566.35 1377.35 578.95 1369.35 586.25 1369.35 586.25 1376.65 573.65 1384.65 566.35 1384.65ZM578.95 1369.35 586.05 1352.35 593.35 1352.35 593.35 1359.65 586.25 1376.65 578.95 1376.65ZM586.05 1352.35 593.05 1324.35 600.35 1324.35 600.35 1331.65 593.35 1359.65 586.05 1359.65ZM593.05 1324.35 599.45 1296.35 606.75 1296.35 606.75 1303.65 600.35 1331.65 593.05 1331.65ZM599.45 1296.35 602.35 1281.35 609.65 1281.35 609.65 1288.65 606.75 1303.65 599.45 1303.65ZM602.35 1281.35 610.65 1248.65 617.95 1248.65 617.95 1255.95 609.65 1288.65 602.35 1288.65ZM610.65 1248.65 618.65 1211.15 625.95 1211.15 625.95 1218.45 617.95 1255.95 610.65 1255.95ZM618.65 1211.15 628.95 1173.75 636.25 1173.75 636.25 1181.05 625.95 1218.45 618.65 1218.45ZM628.95 1173.75 638.15 1146.35 645.45 1146.35 645.45 1153.65 636.25 1181.05 628.95 1181.05ZM638.15 1146.35 642.9 1126.55 650.2 1126.55 650.2 1133.85 645.45 1153.65 638.15 1153.65ZM642.9 1126.55 667.5 1056.25 674.8 1056.25 674.8 1063.55 650.2 1133.85 642.9 1133.85ZM667.5 1056.25 695.65 996.25 702.95 996.25 702.95 1003.55 674.8 1063.55 667.5 1063.55ZM695.65 996.25 734.55 936.35 741.85 936.35 741.85 943.65 702.95 1003.55 695.65 1003.55ZM734.55 936.35 771.15 896.35 778.45 896.35 778.45 903.65 741.85 943.65 734.55 943.65ZM771.15 896.35 776.65 895.05 783.95 895.05 783.95 902.35 778.45 903.65 771.15 903.65ZM776.65 895.05 792.85 886.45 800.15 886.45 800.15 893.75 783.95 902.35 776.65 902.35ZM792.85 886.45 813.55 882.35 820.85 882.35 820.85 889.65 800.15 893.75 792.85 893.75ZM813.55 882.35 838.55 879.85 845.85 879.85 845.85 887.15 820.85 889.65 813.55 889.65ZM838.55 879.85 856.35 875.55 863.65 875.55 863.65 882.85 845.85 887.15 838.55 887.15ZM856.35 875.55 875.95 873.25 883.25 873.25 883.25 880.55 863.65 882.85 856.35 882.85ZM875.95 873.25 895.55 871.35 902.85 871.35 902.85 878.65 883.25 880.55 875.95 880.55ZM895.55 871.35 947.85 861.95 955.15 861.95 955.15 869.25 902.85 878.65 895.55 878.65ZM947.85 861.95 1000.05 855.25 1007.35 855.25 1007.35 862.55 955.15 869.25 947.85 869.25ZM1000.05 855.25 1052.35 850.05 1059.65 850.05 1059.65 857.35 1007.35 862.55 1000.05 862.55ZM1052.35 850.05 1117.65 847.45 1124.95 847.45 1124.95 854.75 1059.65 857.35 1052.35 857.35ZM1117.65 847.45 1155.55 846.95 1162.85 846.95 1162.85 854.25 1124.95 854.75 1117.65 854.75ZM1155.55 846.95 1205.35 844.15 1212.65 844.15 1212.65 851.45 1162.85 854.25 1155.55 854.25ZM1205.35 844.15 1296.35 842.55 1303.65 842.55 1303.65 849.85 1212.65 851.45 1205.35 851.45ZM1296.35 842.55 1416.35 841.95 1423.65 841.95 1423.65 849.25 1303.65 849.85 1296.35 849.85ZM1416.35 841.95 1436.35 839.65 1443.65 839.65 1443.65 846.95 1423.65 849.25 1416.35 849.25ZM1436.35 839.65 1731.35 839.55 1738.65 839.55 1738.65 846.85 1443.65 846.95 1436.35 846.95ZM1731.35 839.55 1746.35 836.85 1753.65 836.85 1753.65 844.15 1738.65 846.85 1731.35 846.85ZM1746.35 836.85 2403.65 836.85 2403.65 844.15 1746.35 844.15Z"/>
</g>
<path fill="none" stroke="#000" stroke-width="4.8" d="M385.1 1466.7 v-59.7 M385.1 58.9 v57 M468.82 1466.7 v-30.6 M468.82 58.9 v30 M552.54 1466.7 v-30.6 M552.54 58.9 v30 M636.26 1466.7 v-59.7 M636.26 58.9 v57 M719.98 1466.7 v-30.6 M719.98 58.9 v30 M803.7 1466.7 v-30.6 M803.7 58.9 v30 M887.42 1466.7 v-59.7 M887.42 58.9 v57 M971.15 1466.7 v-30.6 M971.15 58.9 v30 M1054.87 1466.7 v-30.6 M1054.87 58.9 v30 M1138.59 1466.7 v-59.7 M1138.59 58.9 v57 M1222.31 1466.7 v-30.6 M1222.31 58.9 v30 M1306.03 1466.7 v-30.6 M1306.03 58.9 v30 M1389.75 1466.7 v-59.7 M1389.75 58.9 v57 M1473.47 1466.7 v-30.6 M1473.47 58.9 v30 M1557.19 1466.7 v-30.6 M1557.19 58.9 v30 M1640.91 1466.7 v-59.7 M1640.91 58.9 v57 M1724.63 1466.7 v-30.6 M1724.63 58.9 v30 M1808.35 1466.7 v-30.6 M1808.35 58.9 v30 M1892.08 1466.7 v-59.7 M1892.08 58.9 v57 M1975.8 1466.7 v-30.6 M1975.8 58.9 v30 M2059.52 1466.7 v-30.6 M2059.52 58.9 v30 M2143.24 1466.7 v-59.7 M2143.24 58.9 v57 M2226.96 1466.7 v-30.6 M2226.96 58.9 v30 M2310.68 1466.7 v-30.6 M2310.68 58.9 v30 M2394.4 1466.7 v-59.7 M2394.4 58.9 v57 M385.1 1466.7 h32.8 M2394.4 1466.7 h-30.5 M385.1 1388.49 h32.8 M2394.4 1388.49 h-30.5 M385.1 1310.28 h32.8 M2394.4 1310.28 h-30.5 M385.1 1232.07 h59.6 M2394.4 1232.07 h-57.4 M385.1 1153.86 h32.8 M2394.4 1153.86 h-30.5 M385.1 1075.64 h32.8 M2394.4 1075.64 h-30.5 M385.1 997.43 h32.8 M2394.4 997.43 h-30.5 M385.1 919.22 h32.8 M2394.4 919.22 h-30.5 M385.1 841.01 h59.6 M2394.4 841.01 h-57.4 M385.1 762.8 h32.8 M2394.4 762.8 h-30.5 M385.1 684.59 h32.8 M2394.4 684.59 h-30.5 M385.1 606.38 h32.8 M2394.4 606.38 h-30.5 M385.1 528.17 h32.8 M2394.4 528.17 h-30.5 M385.1 449.96 h59.6 M2394.4 449.96 h-57.4 M385.1 371.74 h32.8 M2394.4 371.74 h-30.5 M385.1 293.53 h32.8 M2394.4 293.53 h-30.5 M385.1 215.32 h32.8 M2394.4 215.32 h-30.5 M385.1 137.11 h32.8 M2394.4 137.11 h-30.5 M385.1 58.9 h59.6 M2394.4 58.9 h-57.4"/>
<rect x="385.1" y="58.9" width="2009.3" height="1407.8" fill="none" stroke="#000" stroke-width="7.3"/>
<text x="180.8" y="1260.9" font-size="80" stroke="#000" stroke-width="0.8">−</text>
<text x="370.3" y="84.2" text-anchor="end" font-size="80">100.0</text>
<text x="370.3" y="475.4" text-anchor="end" font-size="80">50.0</text>
<text x="370.3" y="865.9" text-anchor="end" font-size="80">0.0</text>
<text x="370.3" y="1258.2" text-anchor="end" font-size="80">50.0</text>
<text x="386.1" y="1540" text-anchor="middle" font-size="80">6.6</text>
<text x="637.26" y="1540" text-anchor="middle" font-size="80">6.9</text>
<text x="888.42" y="1540" text-anchor="middle" font-size="80">7.2</text>
<text x="1139.59" y="1540" text-anchor="middle" font-size="80">7.5</text>
<text x="1390.75" y="1540" text-anchor="middle" font-size="80">7.8</text>
<text x="1641.91" y="1540" text-anchor="middle" font-size="80">8.1</text>
<text x="1893.07" y="1540" text-anchor="middle" font-size="80">8.4</text>
<text x="2144.24" y="1540" text-anchor="middle" font-size="80">8.7</text>
<text x="2395.4" y="1540" text-anchor="middle" font-size="80">9</text>
<g transform="translate(1189.9 1640.5) scale(1.023 1)"><text x="0" y="0" font-size="112">d</text><text x="55.5" y="45.7" font-size="78" transform="translate(55.5 0) scale(1.046 1) translate(-55.5 0)">cm</text><text x="184" y="2" font-size="112">[nm]</text></g>
<g transform="translate(150 1250.5) rotate(-90) scale(1.0242 1)" font-size="113"><text x="-3" y="0">Force [kJ mol</text><text x="622.8" y="-59.5" font-size="86" stroke="#000" stroke-width="3.5">−</text><text x="668.4" y="-70.5" font-size="83">1</text><text x="739.3" y="0">nm</text><text x="884.3" y="-59.5" font-size="86" stroke="#000" stroke-width="3.5">−</text><text x="930" y="-70.5" font-size="83">1</text><text x="972.8" y="0">]</text></g>
<rect x="1491.8" y="158.6" width="423.4" height="606.3" fill="#fff" stroke="#000" stroke-width="7.3"/>
<path d="M1512.8 209.85 H1595.1" stroke="#000000" stroke-width="7.1"/>
<text x="1632.6" y="240.05" font-size="92">0.15 M</text>
<path d="M1512.8 295 H1595.1" stroke="#ff0000" stroke-width="7.1"/>
<text x="1632.6" y="325.2" font-size="92">0.2 M</text>
<path d="M1512.8 378 H1595.1" stroke="#00ff00" stroke-width="7.1"/>
<text x="1632.6" y="408.2" font-size="92">0.3 M</text>
<path d="M1512.8 463.2 H1595.1" stroke="#0000ff" stroke-width="7.1"/>
<text x="1632.6" y="493.4" font-size="92">0.5 M</text>
<path d="M1512.8 546 H1595.1" stroke="#ffff00" stroke-width="7.1"/>
<text x="1632.6" y="576.2" font-size="92">0.8 M</text>
<path d="M1512.8 628.9 H1595.1" stroke="#cb9191" stroke-width="7.1"/>
<text x="1632.6" y="659.1" font-size="92">1.0 M</text>
<path d="M1512.8 711.6 H1595.1" stroke="#ffa500" stroke-width="7.1"/>
<text x="1632.6" y="741.8" font-size="92">2.0 M</text>
</svg></body></html>
